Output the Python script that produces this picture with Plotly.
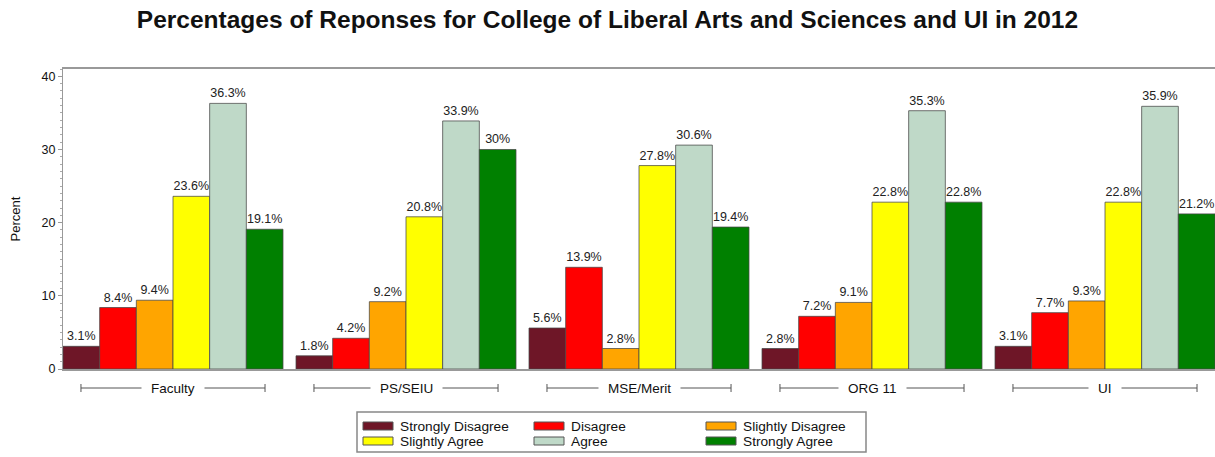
import plotly.graph_objects as go

groups = ["Faculty", "PS/SEIU", "MSE/Merit", "ORG 11", "UI"]
series_names = ["Strongly Disagree", "Disagree", "Slightly Disagree",
                "Slightly Agree", "Agree", "Strongly Agree"]
series_colors = ["#6E1627", "#FF0000", "#FFA500", "#FFFF00", "#BFD9C8", "#008000"]

strongly_disagree = [3.1, 1.8, 5.6, 2.8, 3.1]
disagree = [8.4, 4.2, 13.9, 7.2, 7.7]
slightly_disagree = [9.4, 9.2, 2.8, 9.1, 9.3]
slightly_agree = [23.6, 20.8, 27.8, 22.8, 22.8]
agree = [36.3, 33.9, 30.6, 35.3, 35.9]
strongly_agree = [19.1, 30, 19.4, 22.8, 21.2]
series_values = [strongly_disagree, disagree, slightly_disagree,
                 slightly_agree, agree, strongly_agree]

y_ticks = [0, 10, 20, 30, 40]

FONT = "Liberation Sans, Arial, sans-serif"
W, H = 1215, 457
ML, MR, MT, MB = 63, 0, 69, 88
PW, PH = W - ML - MR, H - MT - MB
BARGAP = 13 / 233


def px_x(px):
    return (px - ML) / PW


def px_y(py):
    return (H - MB - py) / PH


fig = go.Figure()
for name, color, vals in zip(series_names, series_colors, series_values):
    fig.add_trace(go.Bar(
        name=name, x=groups, y=vals,
        marker=dict(color=color, line=dict(color="rgba(70,70,70,0.75)", width=1)),
        texttemplate="%{y}%", textposition="outside",
        textfont=dict(family=FONT, size=12.5, color="#222"),
        cliponaxis=False, showlegend=False,
    ))

shapes = []
annotations = []

# group brackets under the axis
br_y = px_y(388)
tick_h = 4 / PH
half = 0.395
for i, g in enumerate(groups):
    x0, x1 = i - half, i + half
    line = dict(color="#555", width=1)
    shapes.append(dict(type="line", xref="x", yref="paper", x0=x0, x1=x1,
                       y0=br_y, y1=br_y, line=line))
    for xe in (x0, x1):
        shapes.append(dict(type="line", xref="x", yref="paper", x0=xe, x1=xe,
                           y0=br_y - tick_h, y1=br_y + tick_h, line=line))
    annotations.append(dict(x=i, y=br_y, xref="x", yref="paper", text=g,
                            showarrow=False, yanchor="middle", bgcolor="white",
                            borderpad=9,
                            font=dict(family=FONT, size=13.5, color="#111")))

# legend box
shapes.append(dict(type="rect", xref="paper", yref="paper",
                   x0=px_x(357), x1=px_x(866), y0=px_y(412), y1=px_y(452),
                   line=dict(color="#888", width=1.5), fillcolor="white"))
col_x = [363, 534, 706]
row_y = [426, 441]
for k, (name, color) in enumerate(zip(series_names, series_colors)):
    cx = col_x[k % 3]
    cy = row_y[k // 3]
    shapes.append(dict(type="rect", xref="paper", yref="paper",
                       x0=px_x(cx), x1=px_x(cx + 30),
                       y0=px_y(cy + 4), y1=px_y(cy - 4),
                       fillcolor=color, line=dict(color="#555", width=1)))
    annotations.append(dict(x=px_x(cx + 35), y=px_y(cy), xref="paper", yref="paper",
                            text=name, showarrow=False, xanchor="left",
                            yanchor="middle",
                            font=dict(family=FONT, size=13.7, color="#111")))

fig.update_layout(
    width=W, height=H,
    margin=dict(l=ML, r=MR, t=MT, b=MB),
    paper_bgcolor="white", plot_bgcolor="white",
    barmode="group", bargap=BARGAP, bargroupgap=0,
    title=dict(text="Percentages of Reponses for College of Liberal Arts and Sciences and UI in 2012",
               x=(137 + 1078) / 2 / W, xref="container", xanchor="center",
               y=1 - 19 / H, yanchor="middle",
               font=dict(family=FONT, size=24.5, color="#111", weight="bold")),
    shapes=shapes, annotations=annotations,
)

fig.update_xaxes(
    range=[-0.5 + BARGAP / 2, len(groups) - 0.5 - BARGAP / 2],
    showticklabels=False, ticks="",
    showline=True, linecolor="#999", linewidth=2, mirror=True,
    showgrid=False, zeroline=False,
)
fig.update_yaxes(
    range=[0, 41], tickvals=y_ticks,
    ticks="outside", ticklen=4, tickcolor="#999", tickwidth=1,
    minor=dict(dtick=1, ticks="outside", ticklen=2, tickcolor="#aaa", tickwidth=1),
    showline=True, linecolor="#999", linewidth=1,
    showgrid=False, zeroline=False,
    tickfont=dict(family=FONT, size=12.5, color="#111"),
    title=dict(text="Percent", font=dict(family=FONT, size=13, color="#111"), standoff=18),
)

fig.write_html("out.html")
